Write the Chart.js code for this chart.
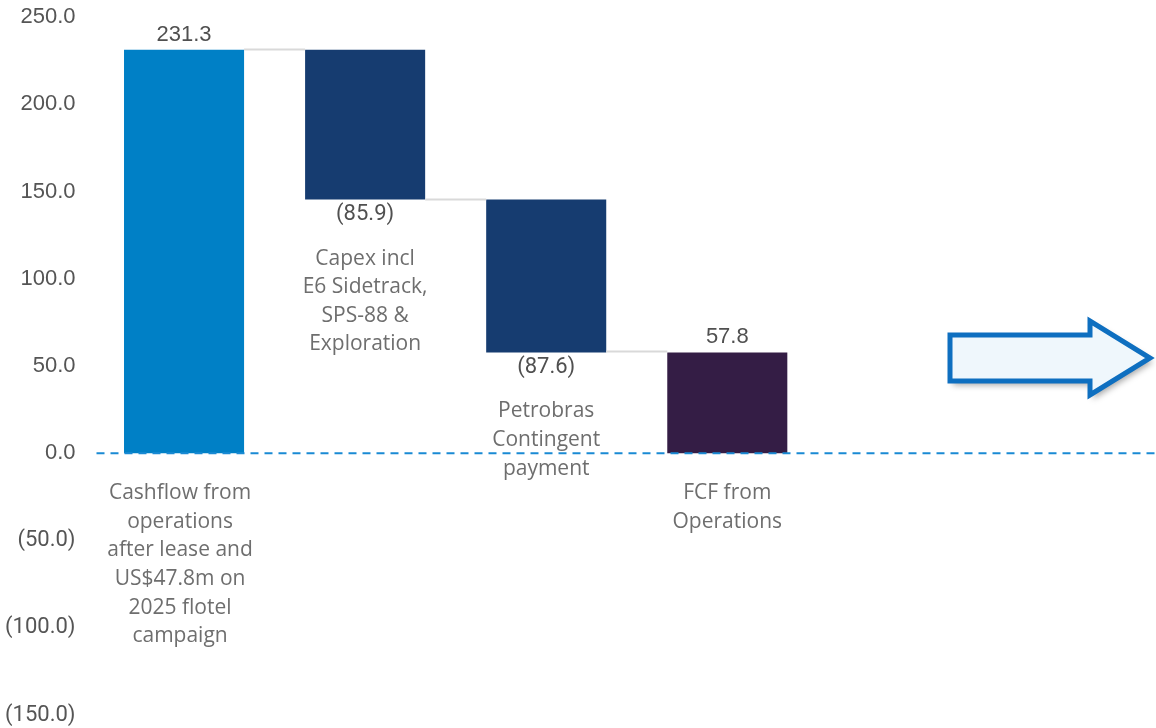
<!DOCTYPE html>
<html><head><meta charset="utf-8">
<script src="https://cdn.jsdelivr.net/npm/chart.js@4.4.0/dist/chart.umd.min.js"></script>
<style>
html,body{margin:0;padding:0;background:#fff;overflow:hidden;width:1156px;height:728px}
#wrap{position:relative;width:1190px;height:728px}
</style></head><body>
<div id="wrap"><canvas id="c" width="1190" height="728"></canvas></div>
<script>
// ---- data ----
const categories = [
  ['Cashflow from','operations','after lease and','US$47.8m on','2025 flotel','campaign'],
  ['Capex incl','E6 Sidetrack,','SPS-88 &','Exploration'],
  ['Petrobras','Contingent','payment'],
  ['FCF from','Operations'],
  [],
  []
];
const stepValues = [231.3, -85.9, -87.6, 57.8];
const stepIsTotal = [true, false, false, true];
const valueLabels = ['231.3', '(85.9)', '(87.6)', '57.8'];
const yTickValues = [250, 200, 150, 100, 50, 0, -50, -100, -150];
const barColors = ['#0080C6', '#163C70', '#163C70', '#341D45'];

// build floating ranges
const ranges = [];
const levels = [];
let running = 0;
stepValues.forEach((v, i) => {
  if (stepIsTotal[i]) { ranges.push([0, v]); running = v; }
  else { const nxt = +(running + v).toFixed(1); ranges.push([nxt, running]); running = nxt; }
  levels.push(running);
});
while (ranges.length < categories.length) ranges.push(null);

const PLEX = '"Roboto", "Noto Sans", sans-serif';
const CAT = '"Open Sans", "Noto Sans", sans-serif';
const ARIAL = '"Liberation Sans", Arial, sans-serif';

function fmt(v) {
  const s = Math.abs(v).toFixed(1);
  return v < 0 ? '(' + s + ')' : s;
}

function arrowPath(ctx) {
  ctx.beginPath();
  ctx.moveTo(950, 335);
  ctx.lineTo(1090, 335);
  ctx.lineTo(1090, 321);
  ctx.lineTo(1150, 358);
  ctx.lineTo(1090, 395);
  ctx.lineTo(1090, 381);
  ctx.lineTo(950, 381);
  ctx.closePath();
}

const overlay = {
  id: 'overlay',
  afterDatasetsDraw(chart) {
    const ctx = chart.ctx;
    const y = chart.scales.y;
    const meta = chart.getDatasetMeta(0);
    const area = chart.chartArea;
    ctx.save();
    // connectors
    ctx.strokeStyle = '#D9D9D9';
    ctx.lineWidth = 2;
    for (let i = 0; i < stepValues.length - 1; i++) {
      const a = meta.data[i], b = meta.data[i + 1];
      const py = Math.round(y.getPixelForValue(levels[i])) - 0.5;
      ctx.beginPath();
      ctx.moveTo(a.x + a.width / 2, py);
      ctx.lineTo(b.x - b.width / 2, py);
      ctx.stroke();
    }
    // zero dashed line
    const zy = y.getPixelForValue(0);
    ctx.strokeStyle = '#1A8AD4';
    ctx.lineWidth = 2;
    ctx.setLineDash([8, 6]);
    ctx.beginPath();
    ctx.moveTo(area.left + 3, zy);
    ctx.lineTo(chart.width, zy);
    ctx.stroke();
    ctx.setLineDash([]);
    // value labels and category labels
    ctx.textAlign = 'center';
    ctx.textBaseline = 'middle';
    for (let i = 0; i < stepValues.length; i++) {
      const el = meta.data[i];
      const r = ranges[i];
      const top = y.getPixelForValue(Math.max(r[0], r[1]));
      const bottom = y.getPixelForValue(Math.min(r[0], r[1]));
      const neg = stepValues[i] < 0;
      ctx.fillStyle = '#505050';
      ctx.font = neg ? '22px ' + PLEX : '22px ' + ARIAL;
      if (neg) ctx.fillText(valueLabels[i], el.x, bottom + 15);
      else ctx.fillText(valueLabels[i], el.x, top - 15);
      // category
      ctx.fillStyle = '#6E6E6E';
      ctx.font = '21px ' + CAT;
      const startY = neg ? bottom + 59 : zy + 40;
      categories[i].forEach((line, k) => {
        ctx.fillText(line, el.x - (i === 0 ? 4 : 0), startY + k * 28.6);
      });
    }
    // arrow decoration
    ctx.save();
    ctx.shadowColor = 'rgba(0,0,0,0.35)';
    ctx.shadowBlur = 6;
    ctx.shadowOffsetX = 3;
    ctx.shadowOffsetY = 4;
    arrowPath(ctx);
    ctx.fillStyle = '#EFF7FC';
    ctx.fill();
    ctx.restore();
    arrowPath(ctx);
    ctx.lineJoin = 'miter';
    ctx.strokeStyle = '#0E6FC0';
    ctx.lineWidth = 5;
    ctx.stroke();
    ctx.restore();
  }
};

new Chart(document.getElementById('c'), {
  type: 'bar',
  data: {
    labels: categories.map((c, i) => 'c' + i),
    datasets: [{
      data: ranges,
      backgroundColor: barColors,
      borderWidth: 0,
      barPercentage: 0.663,
      categoryPercentage: 1
    }]
  },
  options: {
    responsive: false,
    devicePixelRatio: 1,
    animation: false,
    layout: { padding: { top: 17, bottom: 13, left: 0, right: 10 } },
    plugins: { legend: { display: false }, tooltip: { enabled: false } },
    scales: {
      x: { display: false },
      y: {
        min: -150, max: 250,
        afterFit(scale) { scale.width = 93.5; scale.paddingTop = 0; scale.paddingBottom = 0; },
        afterBuildTicks(scale) { scale.ticks = yTickValues.map(v => ({ value: v })); },
        grid: { display: false, drawTicks: false },
        border: { display: false },
        ticks: {
          padding: 18,
          color: '#555555',
          font: (ctx) => ({ family: (ctx.tick && ctx.tick.value < 0) ? PLEX : ARIAL, size: 22 }),
          callback: (v) => fmt(v)
        }
      }
    }
  },
  plugins: [overlay]
});
</script>
</body></html>
